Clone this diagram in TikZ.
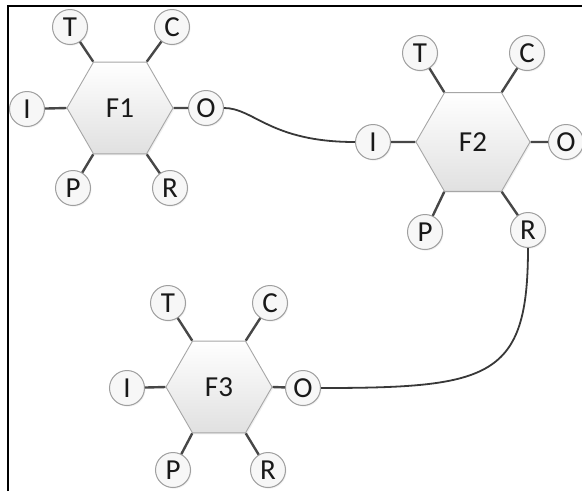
\documentclass[tikz,border=0pt]{standalone}
\usepackage{fontspec}
\setmainfont{Carlito}
\usetikzlibrary{shapes.geometric,shadows}
\begin{document}
\begin{tikzpicture}[x=1pt,y=-1pt,
  hexa/.style={regular polygon, regular polygon sides=6, minimum size=106pt, inner sep=0pt,
    draw=gray!70, line width=0.9pt, top color=white, bottom color=gray!24,
    font=\fontsize{29}{29}\selectfont, text=black!90,
    drop shadow={opacity=0.12, shadow xshift=1.2pt, shadow yshift=-1.5pt}},
  port/.style={circle, minimum size=35pt, inner sep=0pt, draw=gray!75, line width=1pt,
    fill=gray!6, font=\fontsize{29}{29}\selectfont, text=black!90,
    drop shadow={opacity=0.12, shadow xshift=1pt, shadow yshift=-1.2pt}},
  stub/.style={line width=2.4pt, draw=black!72},
  link/.style={line width=1.8pt, draw=black!78}]
\useasboundingbox (0,0) rectangle (582,491);
% frame (top and left edges visible)
\draw[line width=2.4pt] (8,491) -- (8,6) -- (582,6);

% F1
\node[hexa] (F1) at (120,108) {F1};
\node[port] (T1) at (70,27) {T};
\node[port] (C1) at (172,27) {C};
\node[port] (I1) at (27,109) {I};
\node[port] (O1) at (206,108) {O};
\node[port] (P1) at (73,188) {P};
\node[port] (R1) at (170,188) {R};

% F2
\node[hexa, minimum size=114pt] (F2) at (473,142) {F2};
\node[port] (T2) at (420,53) {T};
\node[port] (C2) at (527,53) {C};
\node[port] (I2) at (373,142) {I};
\node[port] (O2) at (566,142) {O};
\node[port] (P2) at (425,232) {P};
\node[port] (R2) at (528,230) {R};

% F3
\node[hexa] (F3) at (219,387) {F3};
\node[port] (T3) at (168,303) {T};
\node[port] (C3) at (270,303) {C};
\node[port] (I3) at (127,388) {I};
\node[port] (O3) at (303,388) {O};
\node[port] (P3) at (173,470) {P};
\node[port] (R3) at (268,470) {R};

% stubs
\foreach \h/\s in {1/1,2/2,3/3}{
  \draw[stub] (F\h.120) -- (T\s);
  \draw[stub] (F\h.60) -- (C\s);
  \draw[stub] (F\h.180) -- (I\s);
  \draw[stub] (F\h.0) -- (O\s);
  \draw[stub] (F\h.240) -- (P\s);
  \draw[stub] (F\h.300) -- (R\s);
}

% links
\draw[link] (O1.east) .. controls +(30,0) and +(-85,0) .. (I2.west);
\draw[link] (R2.south) .. controls +(0,130) and +(170,0) .. (O3.east);
\end{tikzpicture}
\end{document}
